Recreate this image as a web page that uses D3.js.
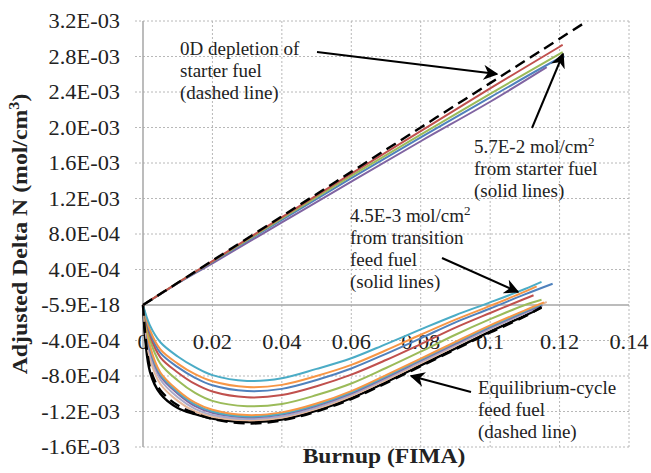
<!DOCTYPE html>
<html>
<head>
<meta charset="utf-8">
<script src="https://cdn.jsdelivr.net/npm/d3@7"></script>
<style>
  html, body { margin: 0; padding: 0; background: #fff; }
  svg { display: block; }
</style>
</head>
<body>
<svg id="chart" width="651" height="473" font-family="'Liberation Serif', 'Times New Roman', Times, 'DejaVu Serif', serif"></svg>
<script>
// ---- axis ticks ----
const xTicks = [0, 0.02, 0.04, 0.06, 0.08, 0.1, 0.12, 0.14];
const xTickLabels = ["0", "0.02", "0.04", "0.06", "0.08", "0.1", "0.12", "0.14"];
const yTicks = [3.2e-3, 2.8e-3, 2.4e-3, 2.0e-3, 1.6e-3, 1.2e-3, 8.0e-4, 4.0e-4, 0, -4.0e-4, -8.0e-4, -1.2e-3, -1.6e-3];
const yTickLabels = ["3.2E-03", "2.8E-03", "2.4E-03", "2.0E-03", "1.6E-03", "1.2E-03", "8.0E-04", "4.0E-04", "-5.9E-18", "-4.0E-04", "-8.0E-04", "-1.2E-03", "-1.6E-03"];

// ---- starter fuel (upper group) ----
const starterBurnup = [0, 0.01, 0.02, 0.04, 0.06, 0.08, 0.10, 0.12];
const starter0D     = [0, 2.5e-4, 5.0e-4, 1.0e-3, 1.5e-3, 2.0e-3, 2.5e-3, 3.0e-3];
const starter0DEnd  = [0.128, 3.2e-3];
const starterRed    = [0, 2.5e-4, 4.95e-4, 9.9e-4, 1.48e-3, 1.96e-3, 2.44e-3, 2.91e-3];
const starterRedEnd = [0.1209, 2.93e-3];
const starterGreen  = [0, 2.5e-4, 4.9e-4, 9.75e-4, 1.455e-3, 1.92e-3, 2.38e-3, 2.83e-3];
const starterGreenEnd = [0.1209, 2.85e-3];
const starterBlue   = [0, 2.45e-4, 4.85e-4, 9.6e-4, 1.43e-3, 1.89e-3, 2.34e-3, 2.78e-3];
const starterBlueEnd = [0.1214, 2.80e-3];
const starterPurple = [0, 2.45e-4, 4.7e-4, 9.3e-4, 1.39e-3, 1.845e-3, 2.29e-3];
const starterPurpleEnd = [0.1163, 2.68e-3];

// ---- transition / equilibrium feed fuel (lower group) ----
const feedBurnup = [0, 0.002, 0.005, 0.01, 0.015, 0.02, 0.03, 0.04, 0.05, 0.06, 0.07, 0.08, 0.09, 0.10, 0.11];
const feedTeal    = [0, -2.3e-4, -4.2e-4, -5.8e-4, -7.0e-4, -7.9e-4, -8.55e-4, -8.25e-4, -7.2e-4, -6.0e-4, -4.4e-4, -2.75e-4, -1.15e-4, 0.3e-4, 1.8e-4];
const feedTealEnd = [0.1148, 2.6e-4];
const feedOrange  = [0, -2.8e-4, -5.0e-4, -6.6e-4, -7.8e-4, -8.6e-4, -9.25e-4, -9.0e-4, -8.0e-4, -6.75e-4, -5.1e-4, -3.35e-4, -1.65e-4, -0.1e-4, 1.5e-4];
const feedOrangeEnd = [0.1134, 2.1e-4];
const feedBlue    = [0, -3.1e-4, -5.4e-4, -7.0e-4, -8.2e-4, -9.05e-4, -9.7e-4, -9.45e-4, -8.45e-4, -7.15e-4, -5.5e-4, -3.75e-4, -1.95e-4, -0.4e-4, 1.2e-4];
const feedBlueEnd = [0.118, 2.4e-4];
const feedRed     = [0, -3.4e-4, -5.9e-4, -7.6e-4, -8.9e-4, -9.75e-4, -1.04e-3, -1.015e-3, -9.15e-4, -7.85e-4, -6.2e-4, -4.4e-4, -2.55e-4, -0.9e-4, 0.7e-4];
const feedRedEnd  = [0.1125, 1.1e-4];
const feedGreen   = [0, -3.9e-4, -6.6e-4, -8.5e-4, -9.9e-4, -1.08e-3, -1.14e-3, -1.115e-3, -1.015e-3, -8.85e-4, -7.1e-4, -5.25e-4, -3.35e-4, -1.6e-4, 0.0];
const feedGreenEnd = [0.1148, 0.6e-4];
const feedOrange2 = [0, -4.6e-4, -7.6e-4, -9.6e-4, -1.10e-3, -1.18e-3, -1.24e-3, -1.21e-3, -1.11e-3, -9.7e-4, -7.9e-4, -6.05e-4, -4.15e-4, -2.3e-4, -0.6e-4];
const feedOrange2End = [0.1155, 0.3e-4];
const feedTeal2   = [0, -4.8e-4, -7.8e-4, -9.8e-4, -1.12e-3, -1.20e-3, -1.255e-3, -1.225e-3, -1.125e-3, -9.85e-4, -8.05e-4, -6.15e-4, -4.25e-4, -2.4e-4, -0.7e-4];
const feedTeal2End = [0.1150, 0.1e-4];
const feedPurple  = [0, -5.0e-4, -8.0e-4, -1.0e-3, -1.14e-3, -1.215e-3, -1.265e-3, -1.235e-3, -1.135e-3, -9.95e-4, -8.15e-4, -6.25e-4, -4.35e-4, -2.5e-4, -0.8e-4];
const feedPurpleEnd = [0.1150, 0.0];
const feedGray    = [0, -5.4e-4, -8.4e-4, -1.04e-3, -1.17e-3, -1.24e-3, -1.285e-3, -1.255e-3, -1.155e-3, -1.01e-3, -8.3e-4, -6.4e-4, -4.5e-4, -2.65e-4, -0.95e-4];
const feedGrayEnd = [0.1150, -0.1e-4];
const feedTan     = [0, -6.0e-4, -8.9e-4, -1.08e-3, -1.2e-3, -1.26e-3, -1.30e-3, -1.27e-3, -1.17e-3, -1.025e-3, -8.45e-4, -6.55e-4, -4.6e-4, -2.7e-4, -0.9e-4];
const feedTanEnd  = [0.1163, 0.34e-4];
const feedBlack   = [0, -7.5e-4, -1.0e-3, -1.16e-3, -1.23e-3, -1.28e-3, -1.32e-3, -1.29e-3, -1.19e-3, -1.05e-3, -8.7e-4, -6.8e-4, -4.9e-4, -3.0e-4, -1.2e-4];
const feedBlackEnd = [0.1148, -0.3e-4];
const equilibrium = [0, -7.0e-4, -9.6e-4, -1.13e-3, -1.22e-3, -1.285e-3, -1.335e-3, -1.30e-3, -1.20e-3, -1.06e-3, -8.8e-4, -6.9e-4, -5.0e-4, -3.1e-4, -1.3e-4];
const equilibriumEnd = [0.1148, -0.23e-4];

// ---- layout ----
const svg = d3.select("#chart");
const x = d3.scaleLinear().domain([0, 0.14]).range([143, 629]);
const y = d3.scaleLinear().domain([-1.6e-3, 3.2e-3]).range([447, 21]);

const gridColor = "#b8b8b8";
const axisColor = "#a6a6a6";
const ink = "#222";

// stretch text a little along its baseline (wide serif look)
function widen(sel, k) {
  sel.each(function () {
    const len = this.getComputedTextLength();
    d3.select(this).attr("textLength", len * k).attr("lengthAdjust", "spacingAndGlyphs");
  });
}

// horizontal gridlines
svg.append("g").selectAll("line").data(yTicks.filter(v => v !== 0)).join("line")
  .attr("x1", 135).attr("x2", x(0.14))
  .attr("y1", d => y(d)).attr("y2", d => y(d))
  .attr("stroke", gridColor).attr("stroke-width", 1).attr("stroke-dasharray", "2,2");
// vertical gridlines
svg.append("g").selectAll("line").data(xTicks.filter(v => v !== 0)).join("line")
  .attr("x1", d => x(d)).attr("x2", d => x(d))
  .attr("y1", y(3.2e-3)).attr("y2", y(-1.6e-3))
  .attr("stroke", gridColor).attr("stroke-width", 1).attr("stroke-dasharray", "2,2");

// axes lines
svg.append("line").attr("x1", x(0)).attr("x2", x(0)).attr("y1", y(3.2e-3)).attr("y2", y(-1.6e-3))
  .attr("stroke", axisColor).attr("stroke-width", 1.5);
svg.append("line").attr("x1", x(0)).attr("x2", x(0.14)).attr("y1", y(0)).attr("y2", y(0))
  .attr("stroke", axisColor).attr("stroke-width", 1.5);

// y tick labels
const yl = svg.append("g").selectAll("text").data(yTicks).join("text")
  .attr("x", 120).attr("y", d => y(d)).attr("dy", "0.35em")
  .attr("text-anchor", "end").attr("font-size", 20.5).attr("fill", ink)
  .text((d, i) => yTickLabels[i]);
widen(yl, 1.09);

// x tick labels
const xl = svg.append("g").selectAll("text").data(xTicks).join("text")
  .attr("x", d => x(d)).attr("y", y(0) + 37).attr("dy", "0.35em")
  .attr("text-anchor", "middle").attr("font-size", 20.5).attr("fill", ink)
  .text((d, i) => xTickLabels[i]);
widen(xl, 1.09);

// axis titles
const xt = svg.append("text").attr("x", 384).attr("y", 463).attr("text-anchor", "middle")
  .attr("font-size", 21).attr("font-weight", "bold").attr("fill", ink).text("Burnup (FIMA)");
widen(xt, 1.12);

const yt = svg.append("text").attr("transform", "translate(27,234) rotate(-90)")
  .attr("text-anchor", "middle").attr("font-size", 22).attr("font-weight", "bold").attr("fill", ink);
yt.append("tspan").text("Adjusted Delta N (mol/cm");
yt.append("tspan").attr("baseline-shift", "super").attr("font-size", 15).text("3");
yt.append("tspan").text(")");
widen(yt, 1.08);

// ---- series ----
const line = d3.line().x(d => x(d[0])).y(d => y(d[1])).curve(d3.curveCatmullRom.alpha(0.5));
const pts = (xs, ys, end) => ys.map((v, i) => [xs[i], v]).concat([end]);

const plot = svg.append("g");

const feedSeries = [
  { v: feedBlack, e: feedBlackEnd, c: "#000000", w: 2.4 },
  { v: feedTan, e: feedTanEnd, c: "#e6b89c", w: 2 },
  { v: feedGray, e: feedGrayEnd, c: "#a9a9c9", w: 2 },
  { v: feedPurple, e: feedPurpleEnd, c: "#8064a2", w: 2 },
  { v: feedTeal2, e: feedTeal2End, c: "#4bacc6", w: 2 },
  { v: feedOrange2, e: feedOrange2End, c: "#f79646", w: 2 },
  { v: feedGreen, e: feedGreenEnd, c: "#9bbb59", w: 2 },
  { v: feedRed, e: feedRedEnd, c: "#c0504d", w: 2 },
  { v: feedBlue, e: feedBlueEnd, c: "#4f81bd", w: 2 },
  { v: feedOrange, e: feedOrangeEnd, c: "#f79646", w: 2 },
  { v: feedTeal, e: feedTealEnd, c: "#4bacc6", w: 2 }
];
feedSeries.forEach(s => {
  plot.append("path").attr("d", line(pts(feedBurnup, s.v, s.e)))
    .attr("fill", "none").attr("stroke", s.c).attr("stroke-width", s.w);
});
plot.append("path").attr("d", line(pts(feedBurnup, equilibrium, equilibriumEnd)))
  .attr("fill", "none").attr("stroke", "#000").attr("stroke-width", 2.4)
  .attr("stroke-dasharray", "11,6");

const starterSeries = [
  { v: starterPurple, e: starterPurpleEnd, c: "#8064a2" },
  { v: starterBlue, e: starterBlueEnd, c: "#4f81bd" },
  { v: starterGreen, e: starterGreenEnd, c: "#9bbb59" },
  { v: starterRed, e: starterRedEnd, c: "#c0504d" }
];
starterSeries.forEach(s => {
  plot.append("path").attr("d", line(pts(starterBurnup, s.v, s.e)))
    .attr("fill", "none").attr("stroke", s.c).attr("stroke-width", 2);
});
plot.append("path").attr("d", line(pts(starterBurnup, starter0D, starter0DEnd)))
  .attr("fill", "none").attr("stroke", "#000").attr("stroke-width", 2.4)
  .attr("stroke-dasharray", "11,6");

// ---- annotations ----
svg.append("defs").append("marker").attr("id", "arrow")
  .attr("viewBox", "0 0 10 10").attr("refX", 9).attr("refY", 5)
  .attr("markerWidth", 7.5).attr("markerHeight", 7.5).attr("orient", "auto")
  .append("path").attr("d", "M0,0 L10,5 L0,10 L3,5 Z").attr("fill", "#000");

function note(lines, x0, y0) {
  const t = svg.append("text").attr("font-size", 19).attr("fill", ink);
  lines.forEach((ln, i) => {
    const ts = t.append("tspan").attr("x", x0).attr("y", y0 + i * 22);
    if (Array.isArray(ln)) {
      ts.append("tspan").text(ln[0]);
      ts.append("tspan").attr("baseline-shift", "super").attr("font-size", 13).text(ln[1]);
    } else {
      ts.text(ln);
    }
  });
}
function arrow(x1, y1, x2, y2) {
  svg.append("line").attr("x1", x1).attr("y1", y1).attr("x2", x2).attr("y2", y2)
    .attr("stroke", "#000").attr("stroke-width", 2).attr("marker-end", "url(#arrow)");
}

note(["0D depletion of", "starter fuel", "(dashed line)"], 180, 55);
arrow(317, 52, 497, 74);

note([["5.7E-2 mol/cm", "2"], "from starter fuel", "(solid lines)"], 474, 153);
arrow(532, 128, 563, 54);

note([["4.5E-3 mol/cm", "2"], "from transition", "feed fuel", "(solid lines)"], 350, 222);
arrow(442, 258, 518, 292);

note(["Equilibrium-cycle", "feed fuel", "(dashed line)"], 478, 394);
arrow(471, 392, 411, 376);
</script>
</body>
</html>
